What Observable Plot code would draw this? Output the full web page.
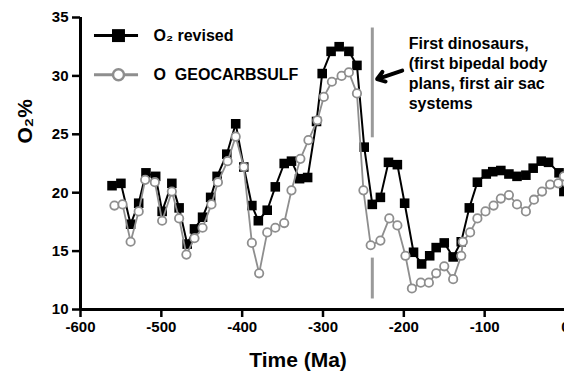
<!DOCTYPE html>
<html>
<head>
<meta charset="utf-8">
<script src="https://cdn.jsdelivr.net/npm/d3@7"></script>
<script src="https://cdn.jsdelivr.net/npm/@observablehq/plot@0.6"></script>
<style>
  html, body { margin: 0; padding: 0; background: #fff; overflow: hidden; }
  #chart svg { display: block; }
</style>
</head>
<body>
<div id="chart"></div>
<script>
// Time (Ma) and O2 % for the revised curve
const revisedTime = [-561,-550,-538,-528,-519,-507,-499,-487,-478,-468,-459,-449,-439,-431,-419,-408,-398,-388,-380,-369,-359,-348,-339,-329,-319,-308,-301,-290,-280,-268,-258,-249,-239,-229,-219,-208,-199,-188,-178,-168,-160,-150,-139,-129,-119,-109,-98,-90,-80,-70,-60,-49,-40,-30,-21,-8,-2];
const revisedO2 = [20.6,20.8,17.3,19.1,21.7,21.4,18.4,20.8,18.7,15.6,16.9,17.9,19.6,21.4,23.3,25.9,22.2,18.9,17.6,18.5,20.5,22.5,22.7,21.2,21.3,26.1,30.2,32.1,32.5,32.1,30.9,23.9,19.0,19.6,22.6,22.4,19.1,14.9,13.9,14.6,15.3,15.7,14.5,15.8,18.7,20.9,21.6,21.8,21.9,21.6,21.4,21.5,22.1,22.7,22.6,21.7,20.1];

// Time (Ma) and O2 % for GEOCARBSULF
const geoTime = [-558,-548,-538,-528,-520,-508,-499,-487,-478,-469,-459,-449,-438,-430,-418,-408,-398,-388,-379,-369,-359,-348,-339,-328,-318,-307,-299,-289,-277,-268,-258,-250,-241,-229,-218,-208,-198,-190,-179,-169,-160,-150,-139,-129,-127,-118,-109,-99,-89,-80,-70,-60,-49,-39,-29,-19,-9,-2];
const geoO2 = [18.9,19.0,15.8,18.4,21.1,20.9,17.6,20.1,17.8,14.7,16.1,17.0,19.0,20.9,22.7,24.8,22.2,15.7,13.1,16.6,17.0,17.4,20.2,22.9,24.5,26.2,28.2,29.5,30.0,30.3,28.5,20.2,15.5,15.9,17.8,17.2,14.6,11.8,12.3,12.3,13.1,13.7,12.6,14.6,15.8,16.6,17.8,18.4,18.9,19.5,19.8,19.0,18.4,19.4,20.1,20.7,20.8,21.4];

const xTicks = [-600,-500,-400,-300,-200,-100,0];
const yTicks = [10,15,20,25,30,35];

const seriesNames = ["O\u2082 revised", "O\u00a0\u00a0GEOCARBSULF"];
const eventTime = -239;
const eventSegments = [[34.1, 24.7], [14.4, 10.9]];
const annotationText = "First dinosaurs,\n(first bipedal body\nplans, first air sac\nsystems";
const xLabel = "Time (Ma)";
const yLabel = "O\u2082%";

const revised = revisedTime.map((t, i) => ({t, o2: revisedO2[i]}));
const geo = geoTime.map((t, i) => ({t, o2: geoO2[i]}));
const segs = eventSegments.map(([a, b]) => ({t: eventTime, y1: a, y2: b}));

const BLACK = "#000";
const GRAY = "#8e8e8e";
const font = "'Liberation Sans', Arial, Helvetica, sans-serif";

// legend placement (data space)
const legX1 = -582.7, legX2 = -528.2, legMark = -553, legText = -509.7;
const legY = [33.45, 30.1];

const chart = Plot.plot({
  width: 564,
  height: 374,
  marginLeft: 80,
  marginRight: -1,
  marginTop: 17,
  marginBottom: 65,
  style: {fontFamily: font, background: "#fff", color: "#000"},
  x: {domain: [-600, 0]},
  y: {domain: [10, 35]},
  marks: [
    // event marker line
    Plot.ruleX(segs, {x: "t", y1: "y1", y2: "y2", stroke: "#9a9a9a", strokeWidth: 3}),
    // revised series
    Plot.line(revised, {x: "t", y: "o2", stroke: BLACK, strokeWidth: 2}),
    Plot.dot(revised, {x: "t", y: "o2", symbol: "square", r: 5.4, fill: BLACK, stroke: "none"}),
    // GEOCARBSULF series
    Plot.line(geo, {x: "t", y: "o2", stroke: GRAY, strokeWidth: 1.8}),
    Plot.dot(geo, {x: "t", y: "o2", symbol: "circle", r: 4.2, fill: "#fff", stroke: GRAY, strokeWidth: 1.8}),
    // axes
    Plot.axisX(xTicks, {tickSize: 8, tickPadding: 4, strokeWidth: 2.5, fontSize: 15, fontWeight: "bold", tickFormat: d => `${d}`}),
    Plot.axisY(yTicks, {tickSize: 8, tickPadding: 4, strokeWidth: 2.5, fontSize: 15, fontWeight: "bold", tickFormat: d => `${d}`, label: null}),
    Plot.ruleX([-600], {y1: 10, y2: 35, strokeWidth: 3}),
    Plot.ruleY([10], {x1: -600, x2: 0, strokeWidth: 3}),
    // axis titles
    Plot.text([xLabel], {frameAnchor: "bottom", dy: 51, dx: -25, fontSize: 21, fontWeight: "bold", lineAnchor: "middle"}),
    Plot.text([yLabel], {frameAnchor: "left", dx: -55, dy: -20, rotate: -90, fontSize: 21, fontWeight: "bold"}),
    // annotation
    Plot.text([annotationText], {x: -194, y: 33.5, textAnchor: "start", lineAnchor: "top", fontSize: 16, fontWeight: "bold", lineHeight: 1.25}),
    Plot.arrow([{x1: -202, y1: 30.45, x2: -233, y2: 29.73}], {x1: "x1", y1: "y1", x2: "x2", y2: "y2", strokeWidth: 4, headLength: 9, headAngle: 70, stroke: BLACK}),
    // legend
    Plot.ruleY([legY[0]], {x1: legX1, x2: legX2, stroke: BLACK, strokeWidth: 3}),
    Plot.dot([legY[0]], {x: legMark, y: d => d, symbol: "square", r: 7.3, fill: BLACK}),
    Plot.ruleY([legY[1]], {x1: legX1, x2: legX2, stroke: GRAY, strokeWidth: 3}),
    Plot.dot([legY[1]], {x: legMark, y: d => d, symbol: "circle", r: 5.5, fill: "#fff", stroke: GRAY, strokeWidth: 2.5}),
    Plot.text(seriesNames, {x: legText, y: (d, i) => legY[i], textAnchor: "start", fontSize: 16, fontWeight: "bold"})
  ]
});
document.getElementById("chart").appendChild(chart);
</script>
</body>
</html>
